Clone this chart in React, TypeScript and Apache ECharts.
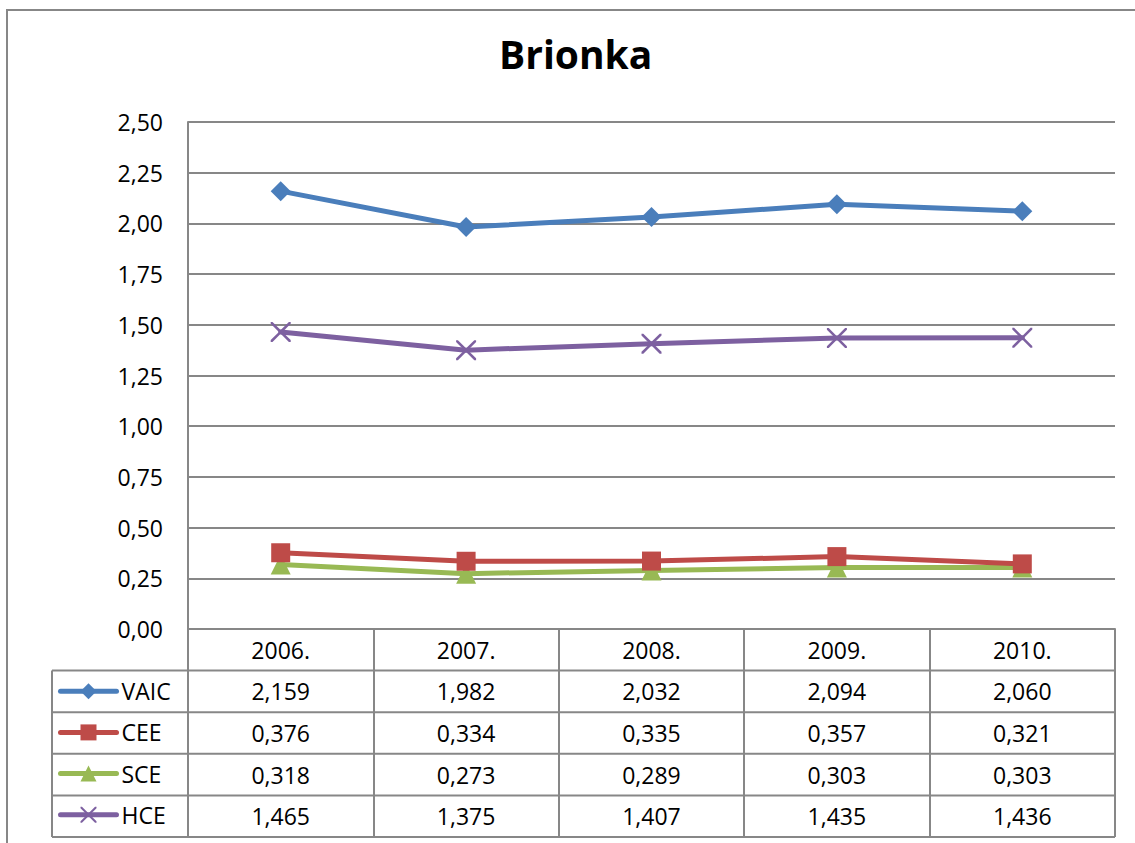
import React, { useEffect, useRef } from 'react';
import * as echarts from 'echarts';

const categories = ['2006.', '2007.', '2008.', '2009.', '2010.'];
const seriesNames = ['VAIC', 'CEE', 'SCE', 'HCE'];
const vaicValues = [2.159, 1.982, 2.032, 2.094, 2.06];
const ceeValues = [0.376, 0.334, 0.335, 0.357, 0.321];
const sceValues = [0.318, 0.273, 0.289, 0.303, 0.303];
const hceValues = [1.465, 1.375, 1.407, 1.435, 1.436];
const yMin = 0;
const yMax = 2.5;
const yInterval = 0.25;
const titleText = 'Brionka';

const seriesValues = [vaicValues, ceeValues, sceValues, hceValues];
const colors = ['#4A7EBB', '#BE4B48', '#98B954', '#7D60A0'];
const crossPath =
  'path://M0,0 L1.8,0 L10,8.2 L18.2,0 L20,0 L20,1.8 L11.8,10 L20,18.2 L20,20 L18.2,20 L10,11.8 L1.8,20 L0,20 L0,18.2 L8.2,10 L0,1.8 Z';
const symbols = ['diamond', 'rect', 'triangle', crossPath];
const symbolSizes = [20, 19, 20, 20];

const W = 1135;
const H = 843;
const gridLeft = 188;
const gridRight = 1115;
const gridTop = 122;
const gridBottom = 629;
const rowH = 41.6;
const tableLeft = 52;
const font = '"Open Sans", sans-serif';
const gray = '#878787';

const fmt = (v: number, d: number) => v.toFixed(d).replace('.', ',');

export default function App() {
  const ref = useRef<HTMLDivElement>(null);
  useEffect(() => {
    if (!ref.current) return;
    const chart = echarts.init(ref.current, undefined, { renderer: 'svg' });
    const tableBottom = gridBottom + rowH * 5;
    const legendItemH = 23.4;

    const rowAxes = seriesValues.map((vals, i) => ({
      type: 'category',
      data: categories,
      gridIndex: 0,
      position: 'bottom',
      offset: rowH * (i + 1),
      axisLine: { show: false },
      axisTick: { show: false },
      splitLine: { show: false },
      axisLabel: {
        interval: 0,
        margin: rowH / 2,
        verticalAlign: 'middle',
        fontSize: 23,
        fontFamily: font,
        color: '#000',
        formatter: (_v: string, idx: number) => fmt(vals[idx], 3),
      },
    }));

    const hLines: any[] = [];
    for (let r = 1; r <= 5; r++) {
      const y = gridBottom + rowH * r;
      hLines.push({
        type: 'line',
        shape: { x1: tableLeft, y1: y, x2: gridRight, y2: y },
        style: { stroke: gray, lineWidth: 2 },
        silent: true,
      });
    }
    hLines.push({
      type: 'line',
      shape: { x1: tableLeft, y1: gridBottom + rowH, x2: tableLeft, y2: tableBottom },
      style: { stroke: gray, lineWidth: 2 },
      silent: true,
    });

    chart.setOption({
      animation: false,
      title: {
        text: titleText,
        left: 499,
        top: 34,
        padding: 0,
        textStyle: { fontSize: 39, fontWeight: 'bold', fontFamily: font, color: '#000' },
      },
      legend: {
        orient: 'vertical',
        left: 58,
        top: gridBottom + rowH * 1.5 - legendItemH / 2,
        height: 200,
        padding: 0,
        itemWidth: 56,
        itemHeight: 20,
        itemGap: rowH - legendItemH,
        data: seriesNames,
        lineStyle: { width: 5 },
        textStyle: { fontSize: 23, fontFamily: font, color: '#000' },
      },
      grid: {
        left: gridLeft,
        right: W - gridRight,
        top: gridTop,
        bottom: H - gridBottom,
        containLabel: false,
      },
      xAxis: [
        {
          type: 'category',
          data: categories,
          boundaryGap: true,
          axisLine: { show: true, lineStyle: { color: gray, width: 2 } },
          axisTick: { show: true, interval: 0, length: tableBottom - gridBottom, lineStyle: { color: gray, width: 2 } },
          axisLabel: {
            interval: 0,
            margin: rowH / 2,
            verticalAlign: 'middle',
            fontSize: 23,
            fontFamily: font,
            color: '#000',
          },
          splitLine: { show: false },
        },
        ...rowAxes,
      ],
      yAxis: {
        type: 'value',
        min: yMin,
        max: yMax,
        interval: yInterval,
        axisLine: { show: true, lineStyle: { color: gray, width: 2 } },
        axisTick: { show: false },
        splitLine: { show: true, lineStyle: { color: gray, width: 2 } },
        axisLabel: {
          margin: 25,
          fontSize: 23,
          fontFamily: font,
          color: '#000',
          formatter: (v: number) => fmt(v, 2),
        },
      },
      graphic: [
        {
          type: 'rect',
          shape: { x: 7, y: 10, width: W + 20, height: H + 20 },
          style: { fill: 'none', stroke: gray, lineWidth: 2 },
          silent: true,
          z: -1,
        },
        ...hLines,
      ],
      series: seriesNames.map((name, i) => ({
        name,
        type: 'line',
        xAxisIndex: 0,
        data: seriesValues[i],
        symbol: symbols[i],
        symbolSize: symbolSizes[i],
        showAllSymbol: true,
        lineStyle: { color: colors[i], width: 5, cap: 'round', join: 'round' },
        itemStyle: { color: colors[i], borderWidth: 0 },
        emphasis: { disabled: true },
        z: 10 - i,
      })),
    });
    return () => chart.dispose();
  }, []);
  return <div ref={ref} style={{ position: 'absolute', left: 0, top: 0, width: W, height: H, background: '#fff' }} />;
}
